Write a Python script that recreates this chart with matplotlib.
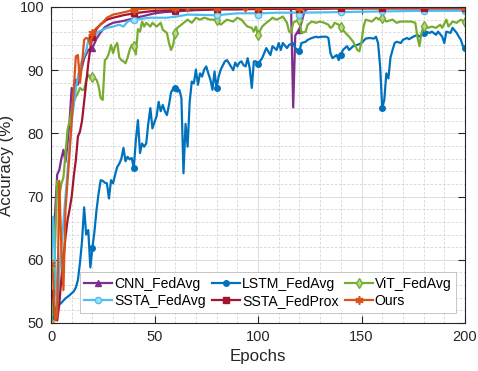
import matplotlib
matplotlib.use('Agg')
import matplotlib.pyplot as plt
from matplotlib.ticker import MultipleLocator

cnn_pts = [(0, 63.0), (1, 63.8), (2, 67.5), (3, 73.5), (4, 74.2), (5, 76.0), (6, 77.4), (7, 75.5),
           (8, 78.4), (9, 82.1), (10, 87.2), (11, 85.8), (12, 88.5), (13, 87.7), (14, 89.8),
           (15, 90.5), (16, 91.9), (18, 93.2), (20, 93.5), (22, 95.0), (24, 96.0), (26, 96.8),
           (28, 97.2), (30, 97.5), (35, 97.8), (40, 98.2), (45, 98.6), (50, 99.0), (55, 99.2),
           (60, 99.3), (70, 99.5), (80, 99.6), (90, 99.6), (100, 99.7), (110, 99.7), (115, 99.7),
           (116, 99.6), (117, 84.1), (118, 95.5), (119, 96.0), (120, 96.4), (121, 97.5),
           (122, 98.8), (123, 99.5), (124, 99.7), (140, 99.8), (160, 99.8), (180, 99.8),
           (200, 99.8)]

lstm_pts = [(0, 51.0), (2, 52.3), (5, 53.2), (7, 53.9), (9, 54.4), (11, 55.0), (12, 55.6),
            (13, 56.8), (14, 59.5), (15, 63.0), (16, 68.3), (17, 64.0), (18, 64.7), (19, 58.8),
            (20, 61.9), (21, 64.5), (22, 67.9), (23, 70.5), (24, 72.6), (25, 72.5), (26, 72.2),
            (27, 72.1), (28, 69.7), (29, 72.6), (30, 72.1), (31, 73.5), (32, 74.7), (33, 75.2),
            (34, 76.0), (35, 77.7), (36, 75.6), (37, 76.3), (38, 75.9), (39, 76.1), (40, 74.5),
            (41, 79.0), (42, 82.1), (43, 76.9), (44, 78.4), (45, 77.9), (46, 78.4), (47, 81.6),
            (48, 84.0), (49, 80.8), (50, 81.8), (51, 82.7), (52, 85.0), (53, 83.5), (54, 84.5),
            (55, 83.5), (56, 82.9), (57, 84.5), (58, 86.5), (59, 87.1), (60, 87.2), (61, 86.6),
            (62, 86.9), (63, 85.6), (64, 73.7), (65, 81.5), (66, 77.9), (67, 85.0), (68, 88.2),
            (69, 87.9), (70, 90.1), (71, 87.7), (72, 89.5), (73, 89.0), (74, 90.1), (75, 90.6),
            (76, 89.5), (77, 88.5), (78, 86.9), (79, 89.8), (80, 87.2), (81, 89.0), (82, 90.1),
            (84, 91.4), (85, 91.6), (86, 91.1), (88, 90.0), (89, 91.2), (90, 90.6), (91, 91.2),
            (92, 91.4), (93, 90.8), (94, 90.6), (95, 91.9), (96, 90.3), (97, 87.2), (98, 91.4),
            (99, 91.4), (100, 91.0), (102, 91.9), (103, 92.7), (104, 93.5), (106, 92.4),
            (107, 93.8), (109, 93.2), (110, 94.3), (111, 93.2), (112, 94.3), (114, 93.5),
            (115, 94.0), (117, 94.3), (118, 93.5), (120, 93.0), (121, 94.3), (123, 94.5),
            (124, 94.8), (126, 95.1), (128, 95.3), (129, 95.2), (131, 95.3), (133, 95.3),
            (134, 95.1), (135, 92.7), (136, 91.9), (138, 92.4), (139, 91.6), (140, 92.4),
            (141, 93.2), (143, 93.8), (144, 93.2), (146, 93.8), (148, 94.0), (150, 94.3),
            (152, 95.0), (154, 95.1), (156, 95.0), (157, 95.3), (158, 94.3), (159, 90.6),
            (160, 84.0), (161, 85.3), (162, 89.5), (163, 88.7), (164, 92.0), (165, 93.2),
            (166, 94.3), (167, 94.5), (169, 94.3), (170, 94.8), (172, 95.1), (173, 94.9),
            (175, 95.3), (177, 95.6), (178, 95.3), (180, 95.9), (181, 96.1), (183, 95.9),
            (184, 96.1), (186, 95.6), (187, 96.1), (189, 95.3), (190, 94.3), (191, 96.1),
            (193, 95.9), (194, 96.7), (196, 95.9), (197, 95.3), (198, 94.8), (199, 93.8),
            (200, 93.5)]

vit_pts = [(0, 50.0), (1, 53.0), (2, 63.0), (3, 72.5), (4, 70.0), (5, 72.0), (6, 73.0), (7, 76.9),
           (8, 80.6), (9, 82.0), (10, 83.7), (11, 85.0), (12, 85.8), (13, 86.4), (14, 87.2),
           (15, 86.9), (16, 86.9), (17, 88.5), (18, 89.3), (19, 88.7), (20, 89.0), (21, 88.7),
           (22, 88.5), (23, 87.5), (24, 85.6), (25, 85.3), (26, 91.6), (27, 91.9), (28, 92.7),
           (29, 94.0), (30, 92.7), (31, 93.8), (32, 94.3), (33, 92.0), (34, 91.6), (35, 91.4),
           (36, 91.1), (37, 92.0), (38, 93.2), (39, 94.0), (40, 93.8), (41, 92.5), (42, 96.5),
           (43, 96.1), (44, 97.7), (45, 96.9), (46, 97.5), (48, 96.9), (49, 97.5), (51, 96.9),
           (53, 97.5), (54, 96.4), (56, 95.9), (57, 94.3), (58, 93.2), (59, 94.0), (60, 95.9),
           (61, 96.7), (63, 97.2), (66, 98.0), (68, 97.5), (70, 98.3), (72, 98.0), (74, 98.3),
           (77, 98.0), (80, 98.0), (82, 97.2), (85, 98.0), (88, 97.7), (90, 98.3), (92, 98.0),
           (94, 97.2), (95, 96.9), (97, 96.7), (98, 96.1), (99, 96.9), (100, 95.6), (102, 96.9),
           (104, 97.5), (106, 98.0), (107, 98.3), (109, 98.0), (111, 98.3), (112, 98.5),
           (114, 97.5), (115, 96.1), (116, 95.9), (117, 97.5), (118, 97.7), (120, 98.0),
           (121, 95.9), (123, 96.1), (124, 97.2), (126, 97.7), (128, 97.5), (130, 97.7),
           (132, 97.5), (134, 97.2), (135, 96.7), (136, 96.9), (137, 97.5), (139, 97.2),
           (140, 96.9), (141, 96.4), (142, 96.0), (144, 95.3), (146, 94.5), (148, 93.2),
           (149, 93.0), (150, 94.5), (151, 96.9), (152, 98.0), (155, 97.7), (157, 98.3),
           (159, 98.0), (160, 98.3), (162, 97.7), (165, 98.0), (167, 97.5), (169, 97.7),
           (172, 97.7), (174, 97.7), (176, 97.5), (177, 95.3), (178, 93.8), (179, 95.9),
           (180, 97.0), (181, 96.9), (182, 96.7), (184, 96.9), (186, 96.7), (188, 97.2),
           (189, 96.7), (191, 98.0), (192, 96.9), (194, 97.7), (196, 97.5), (198, 98.0),
           (200, 97.6)]

fedavg_pts = [(0, 57.1), (1, 66.8), (2, 60.0), (3, 51.0), (4, 58.0), (5, 62.0), (6, 66.0),
              (7, 70.0), (8, 74.0), (9, 78.0), (10, 82.0), (11, 84.5), (12, 87.0), (13, 89.0),
              (14, 90.5), (15, 91.6), (17, 93.0), (18, 94.8), (20, 95.3), (23, 96.1), (27, 96.7),
              (30, 96.9), (33, 97.2), (35, 96.9), (37, 97.7), (40, 98.0), (48, 98.3), (56, 98.3),
              (61, 98.5), (66, 98.8), (80, 98.7), (90, 99.0), (99, 99.0), (100, 98.7), (101, 99.0),
              (110, 99.1), (119, 99.1), (120, 98.8), (121, 99.1), (140, 99.2), (160, 99.3),
              (180, 99.4), (200, 99.4)]

fedprox_pts = [(0, 54.7), (1, 54.5), (2, 50.8), (3, 50.4), (4, 53.0), (5, 57.0), (6, 60.0),
               (7, 63.6), (8, 66.3), (9, 68.0), (10, 70.0), (11, 73.2), (12, 75.8), (13, 79.5),
               (14, 80.3), (15, 82.0), (16, 85.0), (17, 88.0), (18, 91.0), (19, 93.5), (20, 95.3),
               (22, 96.5), (24, 97.3), (25, 97.5), (27, 98.0), (30, 98.3), (35, 98.7), (40, 99.0),
               (45, 99.2), (50, 99.4), (60, 99.5), (70, 99.6), (80, 99.7), (100, 99.7),
               (120, 99.7), (140, 99.8), (160, 99.8), (180, 99.8), (200, 99.8)]

ours_pts = [(0, 59.4), (1, 57.5), (2, 50.4), (3, 51.0), (4, 72.5), (5, 62.0), (6, 55.2), (7, 68.0),
            (8, 72.5), (9, 77.0), (10, 82.0), (11, 87.0), (12, 92.2), (13, 92.4), (14, 88.0),
            (15, 91.0), (16, 94.8), (17, 95.1), (18, 95.0), (19, 94.0), (20, 95.9), (22, 96.7),
            (24, 97.2), (27, 98.3), (30, 98.8), (33, 99.0), (37, 99.3), (40, 99.6), (50, 99.8),
            (60, 99.8), (65, 99.9), (66, 99.3), (67, 99.8), (70, 99.8), (80, 99.9), (93, 99.9),
            (94, 99.3), (95, 99.9), (100, 99.9), (120, 99.9), (150, 99.9), (200, 99.9)]


def marks(ep):
    """Индексы точек с маркерами (каждые 20 эпох)."""
    return [i for i, e in enumerate(ep) if e % 20 == 0]


plt.rcParams['font.family'] = ['Liberation Sans', 'DejaVu Sans']
plt.rcParams['font.size'] = 10.5

fig = plt.figure(figsize=(4.78, 3.71), dpi=100)
ax = fig.add_axes([51 / 478, 1 - 323 / 371, 414 / 478, 316 / 371])

series = [
    ('CNN_FedAvg', cnn_pts, '#7E2F8E', '^', dict(markerfacecolor='#7E2F8E', markersize=5)),
    ('LSTM_FedAvg', lstm_pts, '#0072BD', 'o', dict(markerfacecolor='#0072BD', markersize=4)),
    ('ViT_FedAvg', vit_pts, '#77AC30', 'd', dict(markerfacecolor='#b5d48e', markersize=5)),
    ('SSTA_FedAvg', fedavg_pts, '#4DBEEE', 'o', dict(markerfacecolor='#a6def6', markersize=4.5)),
    ('SSTA_FedProx', fedprox_pts, '#A2142F', 's', dict(markerfacecolor='#A2142F', markersize=4)),
    ('Ours', ours_pts, '#D95319', (6, 2, 0), dict(markersize=6, markeredgewidth=1.2)),
]

handles = {}
for name, pts, color, mk, kw in series:
    ep = [p[0] for p in pts]
    acc = [p[1] for p in pts]
    line, = ax.plot(ep, acc, color=color, lw=1.6, marker=mk, markevery=marks(ep),
                    markeredgecolor=color, label=name, **kw)
    handles[name] = line

ax.set_xlim(0, 200)
ax.set_ylim(50, 100)
ax.xaxis.set_major_locator(MultipleLocator(50))
ax.xaxis.set_minor_locator(MultipleLocator(10))
ax.yaxis.set_major_locator(MultipleLocator(10))
ax.yaxis.set_minor_locator(MultipleLocator(2))
ax.grid(which='major', color='#dcdcdc', lw=0.7, ls='-')
ax.grid(which='minor', color='#d4d4d4', lw=0.6, ls=(0, (3, 2)))
ax.set_axisbelow(True)
ax.tick_params(which='major', direction='in', top=True, right=True, length=5, width=0.8,
               colors='#262626', labelsize=10.5, pad=5)
ax.tick_params(which='minor', length=0)
for sp in ax.spines.values():
    sp.set_color('#262626')
    sp.set_linewidth(0.8)

ax.set_xlabel('Epochs', fontsize=12.2, color='#262626', labelpad=4)
ax.set_ylabel('Accuracy (%)', fontsize=12.2, color='#262626', labelpad=4)

order = ['CNN_FedAvg', 'SSTA_FedAvg', 'LSTM_FedAvg', 'SSTA_FedProx', 'ViT_FedAvg', 'Ours']
leg = ax.legend([handles[n] for n in order], order, ncol=3, loc='lower left',
                bbox_to_anchor=(0.070, 0.033), fontsize=10.1, frameon=True, fancybox=False,
                framealpha=1, edgecolor='#bdbdbd', handlelength=2.0, handletextpad=0.15,
                columnspacing=0.43, labelspacing=0.27, borderpad=0.3, borderaxespad=0.0)
leg.get_frame().set_linewidth(0.6)

fig.savefig('out.png', dpi=100)
